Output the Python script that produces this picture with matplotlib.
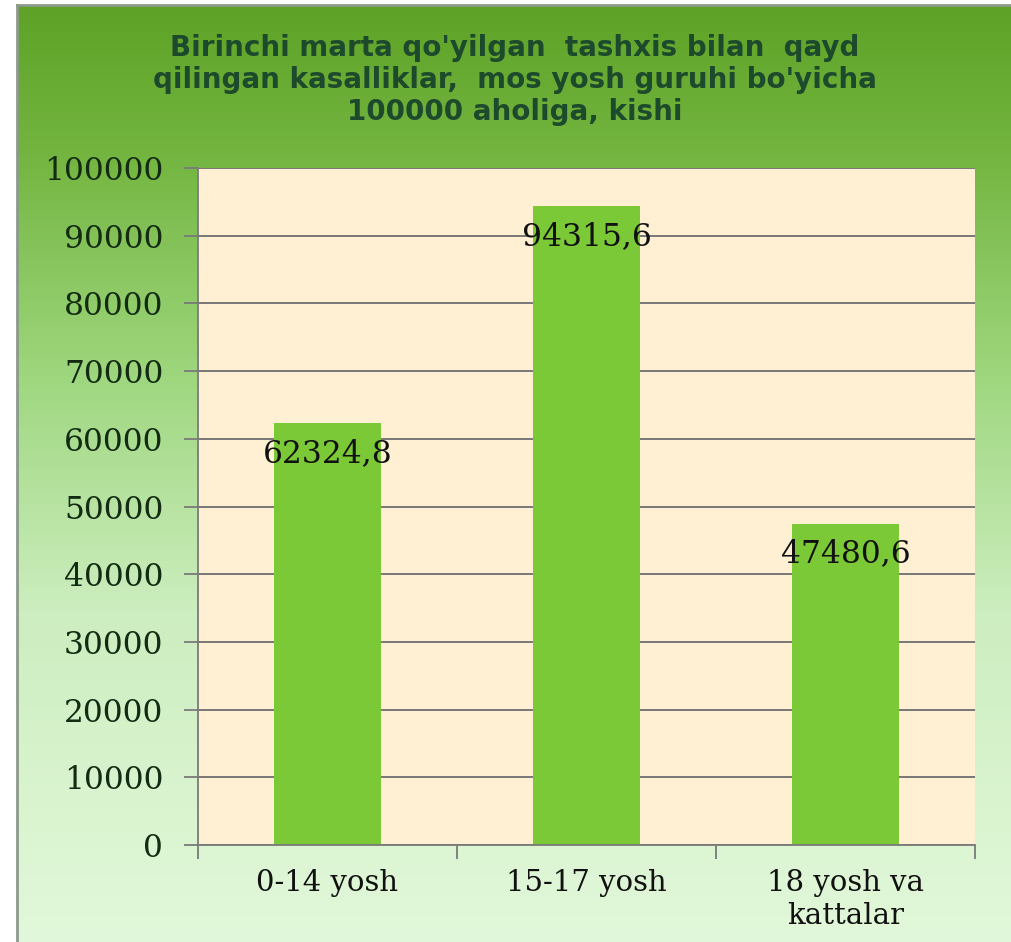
import numpy as np
import matplotlib
matplotlib.use("Agg")
import matplotlib.pyplot as plt
from matplotlib.colors import LinearSegmentedColormap

# data
guruhlar = ["0-14 yosh", "15-17 yosh", "18 yosh va\nkattalar"]
qiymatlar = [62324.8, 94315.6, 47480.6]
yorliqlar = ["62324,8", "94315,6", "47480,6"]
sarlavha = ("Birinchi marta qo'yilgan  tashxis bilan  qayd\n"
            "qilingan kasalliklar,  mos yosh guruhi bo'yicha\n"
            "100000 aholiga, kishi")

fig = plt.figure(figsize=(10.12, 9.42), dpi=100)

# green gradient panel behind everything
bg = fig.add_axes([17 / 1012, 0, 995 / 1012, 937 / 942], zorder=0)
cmap = LinearSegmentedColormap.from_list("bg", [
    (0.00, "#5fa227"),
    (0.15, "#72b43e"),
    (0.40, "#9fd77f"),
    (0.65, "#cdeec0"),
    (1.00, "#e2f8da"),
])
bg.imshow(np.linspace(0, 1, 256).reshape(-1, 1), aspect="auto", cmap=cmap,
          extent=[0, 1, 0, 1])
bg.set_xticks([])
bg.set_yticks([])
for side in ["right", "bottom"]:
    bg.spines[side].set_visible(False)
for side in ["left", "top"]:
    bg.spines[side].set_color("#8c9a8c")
    bg.spines[side].set_linewidth(2)

ax = fig.add_axes([198 / 1012, 1 - 845 / 942, 777 / 1012, 677 / 942], zorder=1)
ax.set_facecolor("#fff0d4")

x = np.arange(len(guruhlar))
bars = ax.bar(x, qiymatlar, width=0.41, color="#7bc936", zorder=2)

for b, t in zip(bars, yorliqlar):
    ax.annotate(t, (b.get_x() + b.get_width() / 2, b.get_height()),
                xytext=(0, -22), textcoords="offset points",
                ha="center", va="center", family="DejaVu Serif",
                fontsize=22.5, color="#111111", zorder=3)

ax.set_ylim(0, 100000)
ax.set_xlim(-0.5, 2.5)
ax.set_yticks(np.arange(0, 100001, 10000))
ax.set_yticklabels([str(v) for v in range(0, 100001, 10000)],
                   family="DejaVu Serif", fontsize=22.5, color="#122b12")
ax.yaxis.grid(True, color="#6e6e6e", linewidth=1.3, zorder=1)
ax.set_axisbelow(True)
ax.tick_params(axis="y", length=10, width=1.3, color="#7a7a7a", pad=15)

ax.set_xticks([-0.5, 0.5, 1.5, 2.5])
ax.set_xticklabels([])
ax.set_xticks(x, minor=True)
ax.set_xticklabels(guruhlar, minor=True, family="DejaVu Serif", fontsize=21,
                   color="#111111", linespacing=1.25)
ax.tick_params(axis="x", which="major", length=10, width=1.3, color="#7a7a7a")
ax.tick_params(axis="x", which="minor", length=0, pad=17)

for side in ["top", "right"]:
    ax.spines[side].set_visible(False)
for side in ["left", "bottom"]:
    ax.spines[side].set_color("#7a7a7a")
    ax.spines[side].set_linewidth(1.3)

fig.text(0.509, 1 - 80 / 942, sarlavha, ha="center", va="center",
         fontsize=20, fontweight="bold", color="#1d4a2c", linespacing=1.2,
         zorder=2)

fig.savefig("out.png", dpi=100)
